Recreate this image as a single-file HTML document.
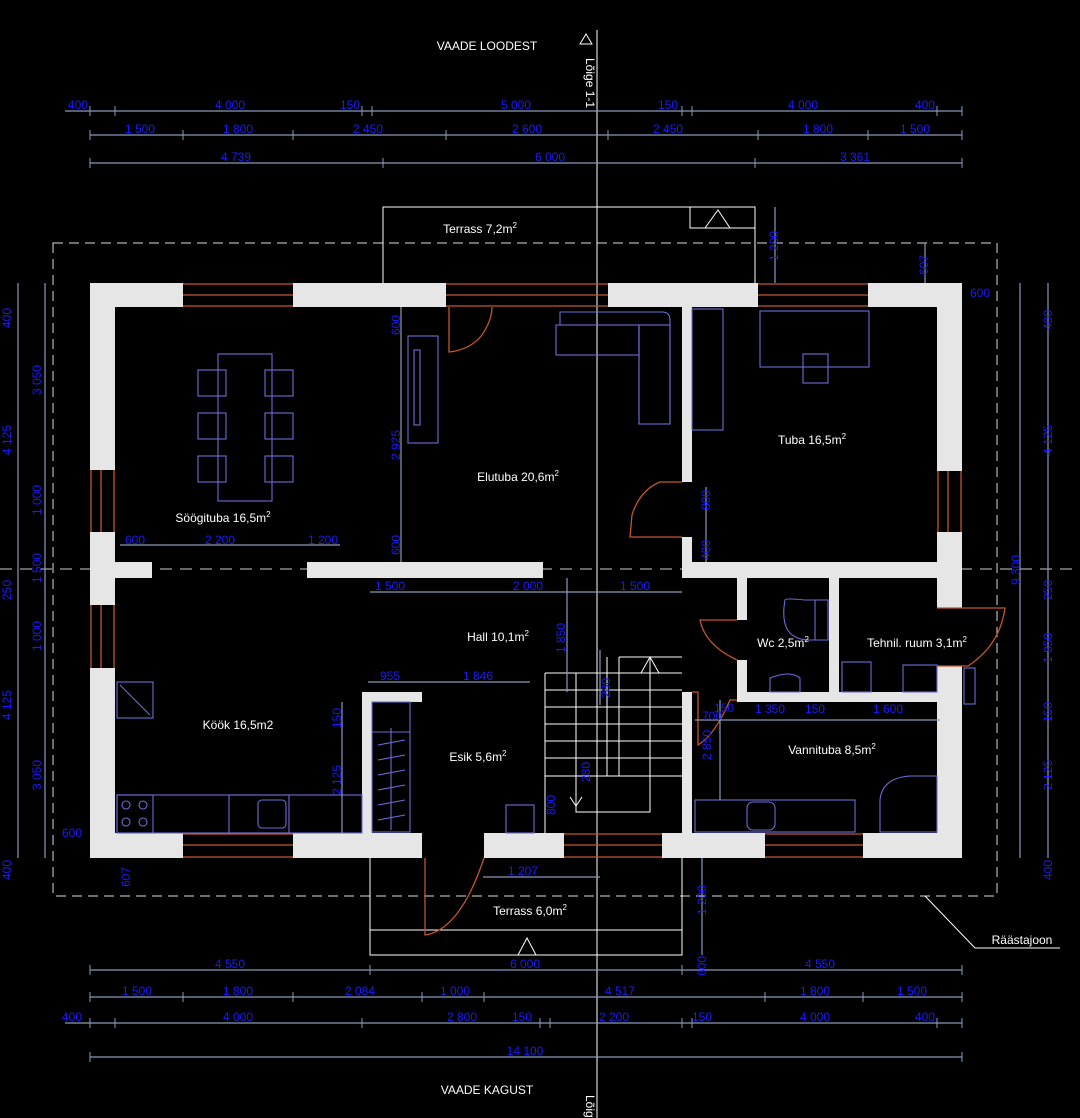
<!DOCTYPE html>
<html><head><meta charset="utf-8"><style>
html,body{margin:0;padding:0;background:#000;}
svg{display:block;}
.w{fill:#e6e6e6;}
.d{stroke:#8a9ab8;stroke-width:1.2;fill:none;}
.t{fill:#1a1aff;font-family:"Liberation Sans",sans-serif;font-size:12px;}
.r{fill:#fff;font-family:"Liberation Sans",sans-serif;font-size:12px;}
.f{stroke:#6c6cd8;stroke-width:1.1;fill:none;}
.o{stroke:#c0562a;stroke-width:1.3;fill:none;}
.l{stroke:#fff;stroke-width:1;fill:none;}
</style></head><body>
<svg width="1080" height="1118" viewBox="0 0 1080 1118" xmlns="http://www.w3.org/2000/svg">
<rect width="1080" height="1118" fill="#000"/>
<!-- eave dashed -->
<rect x="53" y="243" width="944" height="653" fill="none" stroke="#ddd" stroke-width="1" stroke-dasharray="10,6"/>
<!-- terraces -->
<path class="l" d="M383 283 V207 H755 V283 M690 207 V228 H755 M705 228 L718 210 L730 228"/>
<path class="l" d="M370 858 V955 H682 V858 M370 930 H682 M518 955 L527 938 L536 955"/>
<!-- center lines -->
<line x1="597" y1="30" x2="597" y2="1118" stroke="#fff" stroke-width="1"/>
<line x1="0" y1="569" x2="1080" y2="569" stroke="#ccc" stroke-width="1" stroke-dasharray="12,8"/>
<!-- outer walls -->
<rect class="w" x="90" y="283" width="93" height="24"/>
<rect class="w" x="293" y="283" width="153" height="24"/>
<rect class="w" x="608" y="283" width="150" height="24"/>
<rect class="w" x="868" y="283" width="94" height="24"/>
<rect class="w" x="90" y="833" width="93" height="25"/>
<rect class="w" x="293" y="833" width="129" height="25"/>
<rect class="w" x="484" y="833" width="80" height="25"/>
<rect class="w" x="662" y="833" width="103" height="25"/>
<rect class="w" x="863" y="833" width="99" height="25"/>
<rect class="w" x="90" y="283" width="25" height="187"/>
<rect class="w" x="90" y="532" width="25" height="73"/>
<rect class="w" x="90" y="668" width="25" height="190"/>
<rect class="w" x="937" y="283" width="25" height="188"/>
<rect class="w" x="937" y="532" width="25" height="76"/>
<rect class="w" x="937" y="666" width="25" height="192"/>
<!-- interior walls -->
<rect class="w" x="115" y="562" width="37" height="16"/>
<rect class="w" x="307" y="562" width="236" height="16"/>
<rect class="w" x="682" y="562" width="255" height="16"/>
<rect class="w" x="682" y="307" width="10" height="175"/>
<rect class="w" x="682" y="537" width="10" height="30"/>
<rect class="w" x="737" y="578" width="10" height="42"/>
<rect class="w" x="737" y="660" width="10" height="42"/>
<rect class="w" x="829" y="578" width="10" height="124"/>
<rect class="w" x="737" y="692" width="200" height="10"/>
<rect class="w" x="682" y="692" width="10" height="141"/>
<rect class="w" x="362" y="692" width="10" height="141"/>
<rect class="w" x="362" y="692" width="60" height="10"/>
<!-- windows -->
<g class="o">
<path d="M183 284 H293 M183 295 H293 M183 306 H293"/>
<path d="M446 284 H608 M446 295 H608 M446 306 H608"/>
<path d="M758 284 H868 M758 295 H868 M758 306 H868"/>
<path d="M183 834 H293 M183 845 H293 M183 857 H293"/>
<path d="M564 834 H662 M564 845 H662 M564 857 H662"/>
<path d="M765 834 H863 M765 845 H863 M765 857 H863"/>
<path d="M91 470 V532 M101 470 V532 M114 470 V532"/>
<path d="M91 605 V668 M101 605 V668 M114 605 V668"/>
<path d="M938 471 V532 M948 471 V532 M961 471 V532"/>
<!-- doors -->
<path d="M449 307 V352 Q470 350 482 335 Q492 320 492 307"/>
<path d="M682 482 H660 Q640 490 632 515 L630 537 H682"/>
<path d="M737 620 H700 Q705 645 737 660"/>
<path d="M937 608 H1005 Q1000 645 968 666 H937"/>
<path d="M692 692 H698 V745 Q715 735 730 700 H737"/>
<path d="M425 858 V935 Q460 930 484 858"/>
</g>
<!-- furniture -->
<g class="f">
<rect x="218" y="354" width="54" height="147"/>
<rect x="198" y="370" width="28" height="26"/><rect x="198" y="413" width="28" height="26"/><rect x="198" y="456" width="28" height="26"/>
<rect x="265" y="370" width="28" height="26"/><rect x="265" y="413" width="28" height="26"/><rect x="265" y="456" width="28" height="26"/>
<rect x="408" y="336" width="30" height="107"/><rect x="414" y="350" width="6" height="75"/>
<path d="M556 325 H639 V424 H670 V320 Q670 312 662 312 H560 V325"/>
<rect x="556" y="325" width="83" height="30"/><rect x="639" y="325" width="31" height="99"/>
<rect x="692" y="309" width="31" height="121"/>
<rect x="760" y="311" width="109" height="56"/><rect x="803" y="354" width="25" height="29"/>
<path d="M785 600 Q778 640 810 640 H815 V600 H805 Q785 598 785 600 M815 600 H828 V640 H815"/>
<path d="M770 692 V678 Q790 670 800 678 V692 Z"/>
<rect x="842" y="662" width="29" height="30"/><rect x="903" y="665" width="34" height="27"/>
<rect x="964" y="668" width="11" height="36"/>
<rect x="695" y="800" width="160" height="32"/><rect x="747" y="802" width="28" height="28" rx="6"/>
<path d="M880 832 V800 Q882 778 910 776 H937 V832 Z"/>
<rect x="117" y="795" width="245" height="38"/><rect x="117" y="795" width="36" height="38"/>
<circle cx="126" cy="805" r="4"/><circle cx="143" cy="805" r="4"/><circle cx="126" cy="822" r="4"/><circle cx="143" cy="822" r="4"/>
<rect x="229" y="795" width="60" height="38"/><rect x="258" y="800" width="28" height="28" rx="4"/>
<rect x="117" y="682" width="36" height="36"/><path d="M120 685 L150 715"/>
<rect x="372" y="702" width="38" height="130"/><path d="M372 732 H410 M391 728 V830 M378 745 L405 740 M378 760 L405 755 M378 775 L405 770 M378 790 L405 785 M378 805 L405 800 M378 820 L405 815"/>
<rect x="506" y="805" width="28" height="28"/>
</g>
<!-- stairs -->
<g stroke="#fff" stroke-width="1" fill="none">
<path d="M545 673 H682 M545 690 H682 M545 707 H682 M545 724 H682 M545 741 H682 M545 758 H682 M545 776 H682"/>
<path d="M545 673 V833 M576 673 V812 H650 V657 M607 657 V776 M619 657 V776 M619 657 H682"/>
<path d="M641 673 L650 657 L659 673 M570 797 L576 806 L582 797"/>
</g>
<!-- dimension lines -->
<g class="d">
<path d="M65 111 H962 M90 135 H962 M90 163 H962"/>
<path d="M90 970 H962 M90 997 H962 M65 1023 H962 M90 1057 H962"/>
<path d="M18 283 V858 M45 283 V858 M1048 283 V858 M1020 283 V858"/>
<path d="M370 592 H682 M120 545 H340 M401 307 V562 M567 578 V692 M706 487 V562 M368 682 H530 M342 702 H342 V833 M600 650 V705 M775 207 V283 M925 243 V283 M483 877 H600 M702 858 V955 M695 720 H940 M720 700 V800"/>
</g>
<g stroke="#8a9ab8" stroke-width="1">
<path d="M90 106 V116 M115 106 V116 M362 106 V116 M372 106 V116 M682 106 V116 M692 106 V116 M937 106 V116 M962 106 V116"/>
<path d="M90 130 V140 M183 130 V140 M293 130 V140 M446 130 V140 M608 130 V140 M758 130 V140 M868 130 V140 M962 130 V140"/>
<path d="M90 158 V168 M383 158 V168 M755 158 V168 M962 158 V168"/>
<path d="M90 965 V975 M370 965 V975 M682 965 V975 M962 965 V975"/>
<path d="M90 992 V1002 M183 992 V1002 M293 992 V1002 M422 992 V1002 M484 992 V1002 M765 992 V1002 M863 992 V1002 M962 992 V1002"/>
<path d="M90 1018 V1028 M115 1018 V1028 M362 1018 V1028 M540 1018 V1028 M550 1018 V1028 M682 1018 V1028 M692 1018 V1028 M937 1018 V1028 M962 1018 V1028"/>
<path d="M90 1052 V1062 M962 1052 V1062"/>
</g>
<!-- dimension text -->
<g class="t" text-anchor="middle">
<text x="78" y="109">400</text><text x="230" y="109">4 000</text><text x="350" y="109">150</text><text x="516" y="109">5 000</text><text x="668" y="109">150</text><text x="803" y="109">4 000</text><text x="925" y="109">400</text>
<text x="140" y="133">1 500</text><text x="238" y="133">1 800</text><text x="368" y="133">2 450</text><text x="527" y="133">2 600</text><text x="668" y="133">2 450</text><text x="818" y="133">1 800</text><text x="915" y="133">1 500</text>
<text x="236" y="161">4 739</text><text x="550" y="161">6 000</text><text x="855" y="161">3 361</text>
<text x="230" y="968">4 550</text><text x="525" y="968">6 000</text><text x="820" y="968">4 550</text>
<text x="137" y="995">1 500</text><text x="238" y="995">1 800</text><text x="360" y="995">2 084</text><text x="455" y="995">1 000</text><text x="620" y="995">4 517</text><text x="815" y="995">1 800</text><text x="912" y="995">1 500</text>
<text x="72" y="1021">400</text><text x="238" y="1021">4 000</text><text x="462" y="1021">2 800</text><text x="522" y="1021">150</text><text x="614" y="1021">2 200</text><text x="702" y="1021">150</text><text x="815" y="1021">4 000</text><text x="925" y="1021">400</text>
<text x="525" y="1055">14 100</text>
<text x="135" y="544">600</text><text x="220" y="544">2 200</text><text x="323" y="544">1 200</text>
<text x="390" y="590">1 500</text><text x="528" y="590">2 000</text><text x="635" y="590">1 500</text>
<text x="390" y="680">955</text><text x="478" y="680">1 846</text>
<text x="523" y="875">1 207</text>
<text x="770" y="713">1 350</text><text x="815" y="713">150</text><text x="888" y="713">1 600</text><text x="724" y="712">150</text><text x="712" y="720">700</text>
<text x="980" y="297">600</text><text x="72" y="837">600</text>
</g>
<g class="t" text-anchor="middle">
<text transform="translate(11,318) rotate(-90)">400</text>
<text transform="translate(11,440) rotate(-90)">4 125</text>
<text transform="translate(11,590) rotate(-90)">250</text>
<text transform="translate(11,705) rotate(-90)">4 125</text>
<text transform="translate(11,870) rotate(-90)">400</text>
<text transform="translate(41,380) rotate(-90)">3 050</text>
<text transform="translate(41,500) rotate(-90)">1 000</text>
<text transform="translate(41,568) rotate(-90)">1 500</text>
<text transform="translate(41,636) rotate(-90)">1 000</text>
<text transform="translate(41,775) rotate(-90)">3 050</text>
<text transform="translate(1052,320) rotate(-90)">400</text>
<text transform="translate(1052,440) rotate(-90)">4 125</text>
<text transform="translate(1052,590) rotate(-90)">250</text>
<text transform="translate(1052,648) rotate(-90)">1 850</text>
<text transform="translate(1052,712) rotate(-90)">150</text>
<text transform="translate(1052,775) rotate(-90)">2 125</text>
<text transform="translate(1052,870) rotate(-90)">400</text>
<text transform="translate(1020,570) rotate(-90)">9 300</text>
<text transform="translate(400,325) rotate(-90)">600</text>
<text transform="translate(400,445) rotate(-90)">2 925</text>
<text transform="translate(400,545) rotate(-90)">600</text>
<text transform="translate(710,500) rotate(-90)">800</text>
<text transform="translate(710,550) rotate(-90)">400</text>
<text transform="translate(565,638) rotate(-90)">1 850</text>
<text transform="translate(610,688) rotate(-90)">280</text>
<text transform="translate(590,772) rotate(-90)">280</text>
<text transform="translate(555,805) rotate(-90)">800</text>
<text transform="translate(341,718) rotate(-90)">150</text>
<text transform="translate(341,780) rotate(-90)">2 125</text>
<text transform="translate(711,745) rotate(-90)">2 850</text>
<text transform="translate(778,246) rotate(-90)">1 200</text>
<text transform="translate(928,265) rotate(-90)">607</text>
<text transform="translate(130,877) rotate(-90)">607</text>
<text transform="translate(706,900) rotate(-90)">1 200</text>
<text transform="translate(706,966) rotate(-90)">600</text>
</g>
<!-- room labels -->
<g class="r" text-anchor="middle">
<text x="480" y="233">Terrass 7,2m<tspan dy="-5" font-size="8">2</tspan></text>
<text x="223" y="522">Söögituba 16,5m<tspan dy="-5" font-size="8">2</tspan></text>
<text x="518" y="481">Elutuba 20,6m<tspan dy="-5" font-size="8">2</tspan></text>
<text x="812" y="444">Tuba 16,5m<tspan dy="-5" font-size="8">2</tspan></text>
<text x="498" y="641">Hall 10,1m<tspan dy="-5" font-size="8">2</tspan></text>
<text x="783" y="647">Wc 2,5m<tspan dy="-5" font-size="8">2</tspan></text>
<text x="917" y="647">Tehnil. ruum 3,1m<tspan dy="-5" font-size="8">2</tspan></text>
<text x="238" y="729">Köök 16,5m2</text>
<text x="478" y="761">Esik 5,6m<tspan dy="-5" font-size="8">2</tspan></text>
<text x="832" y="754">Vannituba 8,5m<tspan dy="-5" font-size="8">2</tspan></text>
<text x="530" y="915">Terrass 6,0m<tspan dy="-5" font-size="8">2</tspan></text>
<text x="487" y="50">VAADE LOODEST</text>
<text x="487" y="1094">VAADE KAGUST</text>
<text x="1022" y="944">Räästajoon</text>
</g>
<path d="M925 896 L975 948 H1060" stroke="#fff" stroke-width="1" fill="none"/>
<g class="r"><text transform="translate(586,58) rotate(90)">Lõige 1-1</text><text transform="translate(586,1095) rotate(90)">Lõige 1-1</text></g>
<path d="M586 34 L592 44 L580 44 Z" fill="none" stroke="#fff"/>
</svg>
</body></html>
